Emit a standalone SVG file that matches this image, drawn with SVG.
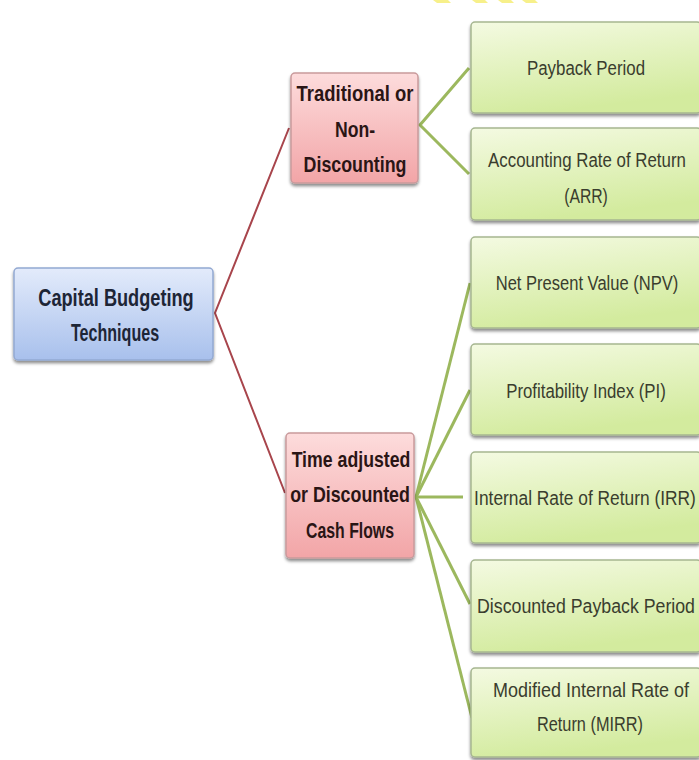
<svg xmlns="http://www.w3.org/2000/svg" width="699" height="760" viewBox="0 0 699 760">
<defs>
<linearGradient id="gGreen" x1="0" y1="0" x2="0.3" y2="1">
<stop offset="0" stop-color="#f4fae2"/>
<stop offset="1" stop-color="#d3eb9e"/>
</linearGradient>
<linearGradient id="gRed" x1="0" y1="0" x2="0" y2="1">
<stop offset="0" stop-color="#fddcdc"/>
<stop offset="1" stop-color="#f2a5a7"/>
</linearGradient>
<linearGradient id="gBlue" x1="0" y1="0" x2="0" y2="1">
<stop offset="0" stop-color="#e3ebfb"/>
<stop offset="1" stop-color="#a8c0ec"/>
</linearGradient>
<filter id="sh" x="-10%" y="-10%" width="120%" height="130%">
<feDropShadow dx="0" dy="2.5" stdDeviation="1.5" flood-color="#000" flood-opacity="0.45"/>
</filter>
</defs>
<style>
.gbox{fill:url(#gGreen);stroke:#a6b690;stroke-width:1.5;filter:url(#sh)}
.rbox{fill:url(#gRed);stroke:#c99a9c;stroke-width:1.5;filter:url(#sh)}
.bbox{fill:url(#gBlue);stroke:#93a9d2;stroke-width:1.5;filter:url(#sh)}
.gt{font-family:"Liberation Sans",Arial,sans-serif;font-size:21px;fill:#3a3d2e;text-anchor:middle}
.rt{font-family:"Liberation Sans",Arial,sans-serif;font-size:22px;font-weight:bold;fill:#2a1515;text-anchor:middle}
.bt{font-family:"Liberation Sans",Arial,sans-serif;font-size:23px;font-weight:bold;fill:#1d2536;text-anchor:middle}
.rl{fill:none;stroke:#a8454c;stroke-width:2}
.gl{fill:none;stroke:#9cb85e;stroke-width:3}
</style>
<rect width="699" height="760" fill="#ffffff"/>
<g id="topmarks" fill="#f7f08a">
<polygon points="433,0 448,0 451,3 437,3"/>
<polygon points="472,0 485,0 488,3 476,3"/>
<polygon points="498,0 511,0 514,3 502,3"/>
<polygon points="522,0 535,0 538,3 526,3"/>
</g>
<g id="connectors">
<path class="rl" d="M289,128 L215,313 L285,493"/>
<path class="gl" d="M469,68 L420,125 L469,174"/>
<path class="gl" d="M470,283 L416,497"/>
<path class="gl" d="M470,390 L416,497"/>
<path class="gl" d="M463,497 L416,497"/>
<path class="gl" d="M470,604 L416,497"/>
<path class="gl" d="M472,718 L416,497"/>
</g>
<g id="n-root">
<rect class="bbox" x="14" y="268" width="199" height="92" rx="4"/>
<text class="bt" transform="translate(116,306) scale(0.79,1)">Capital Budgeting</text>
<text class="bt" transform="translate(115,341) scale(0.70,1)">Techniques</text>
</g>
<g id="n-traditional">
<rect class="rbox" x="291" y="73" width="127" height="110" rx="4"/>
<text class="rt" transform="translate(355,101) scale(0.84,1)">Traditional or</text>
<text class="rt" transform="translate(355,137) scale(0.80,1)">Non-</text>
<text class="rt" transform="translate(355,172) scale(0.81,1)">Discounting</text>
</g>
<g id="n-time">
<rect class="rbox" x="286" y="433" width="128" height="125" rx="4"/>
<text class="rt" transform="translate(351,467) scale(0.805,1)">Time adjusted</text>
<text class="rt" transform="translate(350,502) scale(0.81,1)">or Discounted</text>
<text class="rt" transform="translate(350,538) scale(0.72,1)">Cash Flows</text>
</g>
<g id="n-payback">
<rect class="gbox" x="471" y="22" width="230" height="91" rx="4"/>
<text class="gt" transform="translate(586,75) scale(0.803,1)">Payback Period</text>
</g>
<g id="n-arr">
<rect class="gbox" x="471" y="128" width="230" height="92" rx="4"/>
<text class="gt" transform="translate(587,167) scale(0.804,1)">Accounting Rate of Return</text>
<text class="gt" transform="translate(586,203) scale(0.75,1)">(ARR)</text>
</g>
<g id="n-npv">
<rect class="gbox" x="471" y="237" width="230" height="91" rx="4"/>
<text class="gt" transform="translate(587,290) scale(0.788,1)">Net Present Value (NPV)</text>
</g>
<g id="n-pi">
<rect class="gbox" x="471" y="344" width="230" height="91" rx="4"/>
<text class="gt" transform="translate(586,398) scale(0.80,1)">Profitability Index (PI)</text>
</g>
<g id="n-irr">
<rect class="gbox" x="471" y="452" width="230" height="91" rx="4"/>
<text class="gt" transform="translate(585,505) scale(0.827,1)">Internal Rate of Return (IRR)</text>
</g>
<g id="n-dpp">
<rect class="gbox" x="471" y="560" width="230" height="92" rx="4"/>
<text class="gt" transform="translate(586,613) scale(0.845,1)">Discounted Payback Period</text>
</g>
<g id="n-mirr">
<rect class="gbox" x="471" y="668" width="230" height="89" rx="4"/>
<text class="gt" transform="translate(591,697) scale(0.857,1)">Modified Internal Rate of</text>
<text class="gt" transform="translate(590,731) scale(0.777,1)">Return (MIRR)</text>
</g>
</svg>
